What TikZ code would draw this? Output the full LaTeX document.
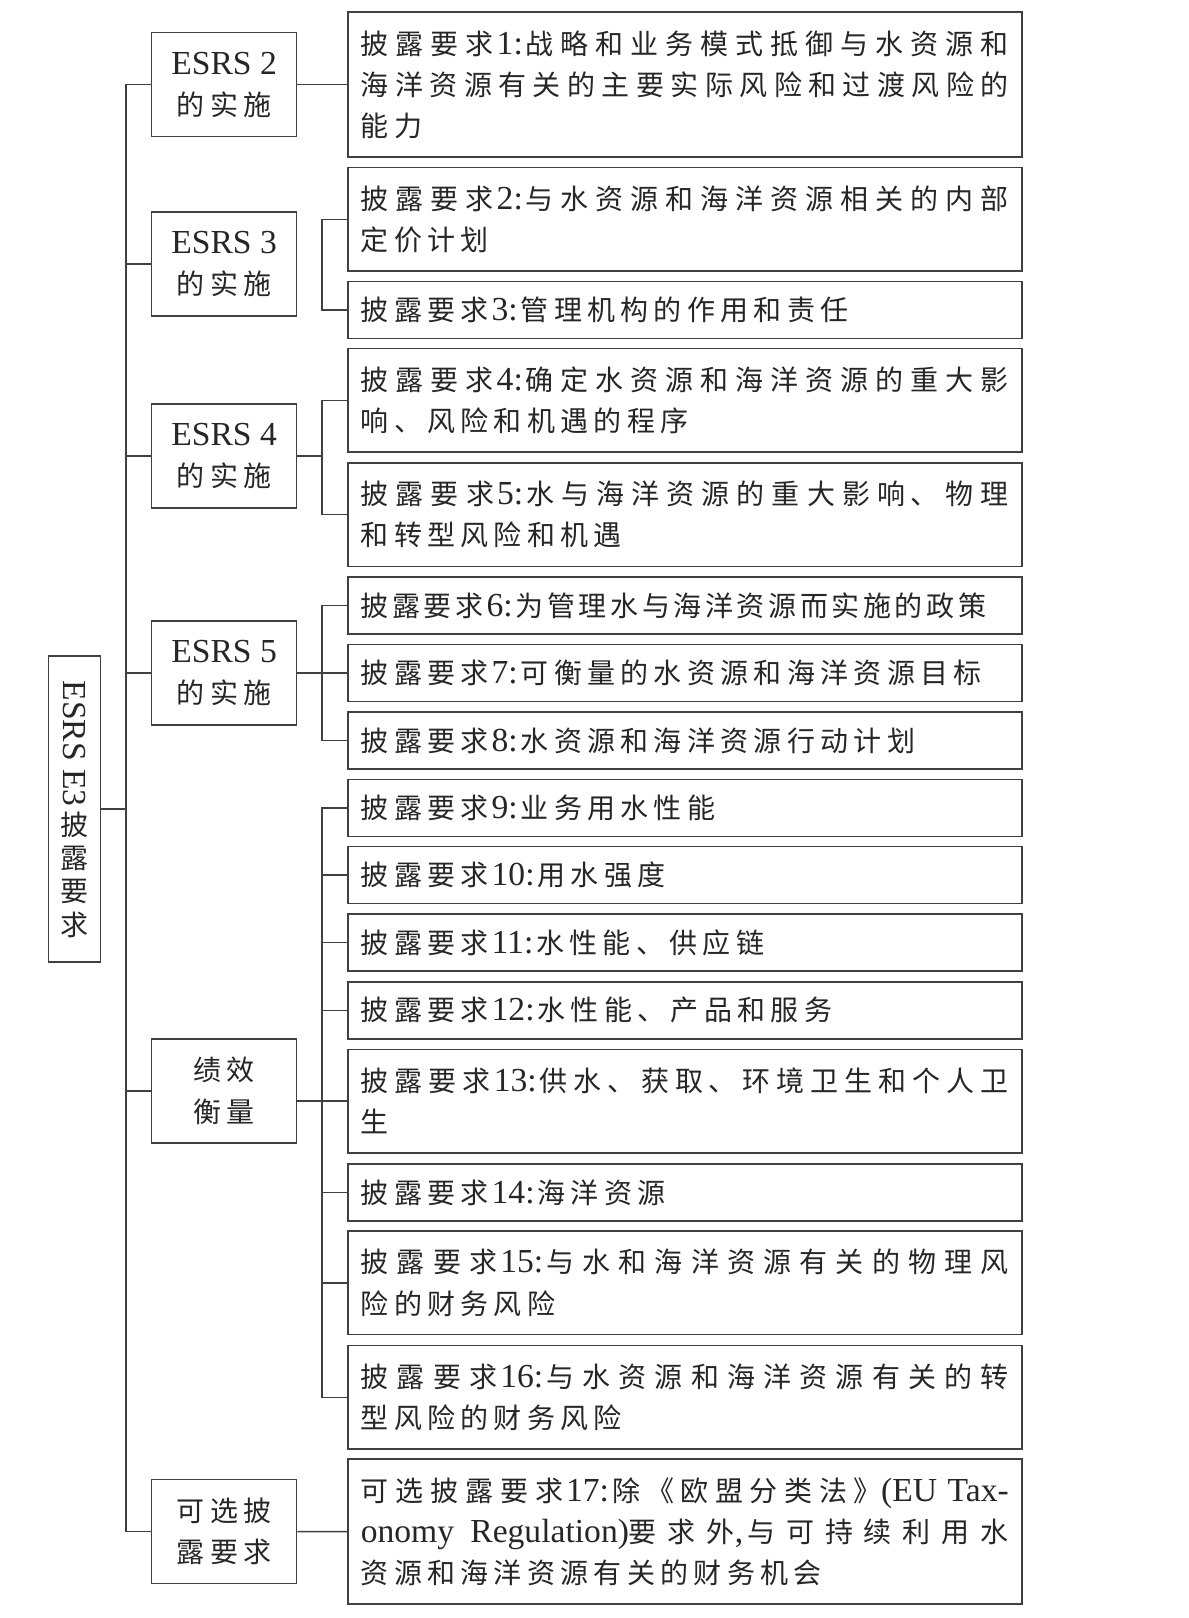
\documentclass[tikz,border=0pt]{standalone}
\usepackage{fontspec}
\usepackage{graphicx}
\usepackage{tikz}
\setmainfont{Noto Sans CJK SC}[LetterSpace=19]
\newfontfamily\en{Liberation Serif}[Scale=1.2]
\XeTeXlinebreaklocale "zh"
\XeTeXlinebreakskip=5.3pt plus 3pt
\definecolor{rule}{HTML}{404040}
\definecolor{ink}{HTML}{262626}
\newcommand{\dr}[1]{披露要求\kern3pt{\en #1:}\hspace{3pt}}

\begin{document}
\begin{tikzpicture}[x=1pt, y=-1pt, line width=1.5pt, color=rule,
  every node/.style={text=ink, font=\fontsize{28}{41.3}\selectfont},
  req/.style={draw, anchor=west, text width=648pt, inner xsep=13pt, inner ysep=0pt, align=justify},
  grp/.style={draw, minimum width=145pt, minimum height=104pt, inner sep=0pt, align=center},
  oneline/.style={minimum height=57pt},
  twoline/.style={minimum height=103.5pt},
  threeline/.style={minimum height=145pt}]
  \useasboundingbox (0,0) rectangle (1189,1618);
  \coordinate (trunk) at (126,0);
  \coordinate (br) at (322,0);

  % root
  \node[draw, minimum width=52pt, minimum height=306pt, inner sep=0pt, align=center,
        font=\fontsize{28}{33.3}\selectfont] (root) at (74.7,809)
    {\rotatebox{-90}{\en ESRS E3}\\[4pt]披\\露\\要\\求};

  % groups
  \node[grp] (g2) at (224.1,84.7) {{\en ESRS 2}\\的实施};
  \node[grp] (g3) at (224.1,264.1) {{\en ESRS 3}\\的实施};
  \node[grp] (g4) at (224.1,456.2) {{\en ESRS 4}\\的实施};
  \node[grp] (g5) at (224.1,673.1) {{\en ESRS 5}\\的实施};
  \node[grp] (perf) at (224.1,1090.9) {绩效\\衡量};
  \node[grp] (opt) at (224.1,1531.5) {可选披\\露要求};

  % requirements
  \node[req, threeline] (r1) at (347,84.7) {\dr{1}战略和业务模式抵御与水资源和海洋资源有关的主要实际风险和过渡风险的能力};
  \node[req, twoline] (r2) at (347,219.35) {\dr{2}与水资源和海洋资源相关的内部定价计划};
  \node[req, oneline] (r3) at (347,309.75) {\dr{3}管理机构的作用和责任};
  \node[req, twoline] (r4) at (347,400.3) {\dr{4}确定水资源和海洋资源的重大影响、风险和机遇的程序};
  \node[req, twoline] (r5) at (347,514.5) {\dr{5}水与海洋资源的重大影响、物理和转型风险和机遇};
  \node[req, oneline] (r6) at (347,605.6) {\XeTeXlinebreakskip=3.6pt plus 3pt\dr{6}为管理水与海洋资源而实施的政策};
  \node[req, oneline] (r7) at (347,672.75) {\dr{7}可衡量的水资源和海洋资源目标};
  \node[req, oneline] (r8) at (347,740.4) {\dr{8}水资源和海洋资源行动计划};
  \node[req, oneline] (r9) at (347,807.75) {\dr{9}业务用水性能};
  \node[req, oneline] (r10) at (347,875.2) {\dr{10}用水强度};
  \node[req, oneline] (r11) at (347,942.7) {\dr{11}水性能、供应链};
  \node[req, oneline] (r12) at (347,1010.4) {\dr{12}水性能、产品和服务};
  \node[req, twoline] (r13) at (347,1101) {\dr{13}供水、获取、环境卫生和个人卫\linebreak 生};
  \node[req, oneline] (r14) at (347,1192.35) {\dr{14}海洋资源};
  \node[req, twoline] (r15) at (347,1282.85) {\dr{15}与水和海洋资源有关的物理风\linebreak 险的财务风险};
  \node[req, twoline] (r16) at (347,1397.25) {\dr{16}与水资源和海洋资源有关的转\linebreak 型风险的财务风险};
  \node[req, threeline] (r17) at (347,1531.7) {可选\dr{17}除《欧盟分类法》{\en (EU Tax-}\linebreak{\en onomy Regulation)}要求外{\en ,}\hspace{4pt}与可持续利用水\linebreak 资源和海洋资源有关的财务机会};

  % trunk
  \draw (g2.west) -- (g2.west -| trunk) -- (opt.west -| trunk) -- (opt.west);
  \draw (root.east) -- (root.east -| trunk);
  \foreach \g in {g3,g4,g5,perf}
    \draw (\g.west) -- (\g.west -| trunk);

  % branches
  \draw (g2.east) -- (r1.west);
  \draw (r2.west) -- (r2.west -| br) -- (r3.west -| br) -- (r3.west);
  \draw (r4.west) -- (r4.west -| br) -- (r5.west -| br) -- (r5.west);
  \draw (g4.east) -- (g4.east -| br);
  \draw (r6.west) -- (r6.west -| br) -- (r8.west -| br) -- (r8.west);
  \draw (g5.east) -- (g5.east -| r7.west);
  \draw (r9.west) -- (r9.west -| br) -- (r16.west -| br) -- (r16.west);
  \foreach \r in {r10,r11,r12,r14,r15}
    \draw (\r.west) -- (\r.west -| br);
  \draw (perf.east |- r13) -- (r13.west);
  \draw (opt.east) -- (r17.west);
\end{tikzpicture}
\end{document}
